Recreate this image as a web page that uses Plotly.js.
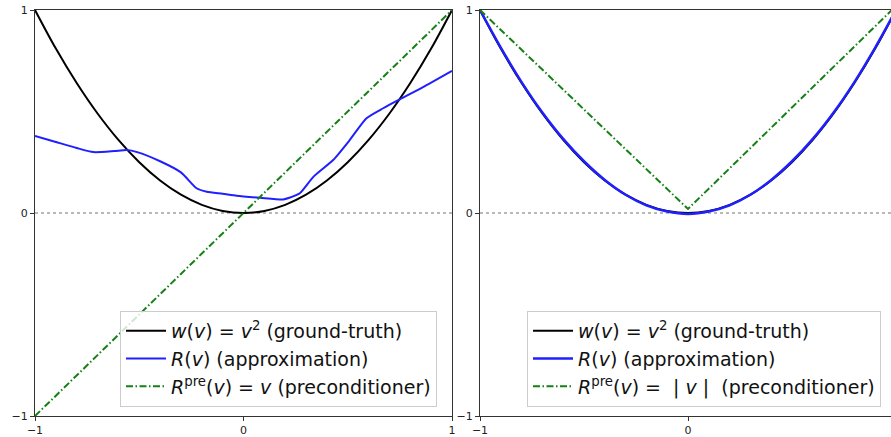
<!DOCTYPE html>
<html>
<head>
<meta charset="utf-8">
<script src="https://cdn.plot.ly/plotly-3.0.1.min.js"></script>
<style>html,body{margin:0;padding:0;background:#fff}#chart{width:891px;height:437px}</style>
</head>
<body>
<div id="chart"></div>
<script>
// ---- data ----
const vGrid = [-1.0,-0.9,-0.8,-0.7,-0.6,-0.5,-0.4,-0.3,-0.2,-0.1,0.0,0.1,0.2,0.3,0.4,0.5,0.6,0.7,0.8,0.9,1.0];
const groundTruth = [1.0,0.81,0.64,0.49,0.36,0.25,0.16,0.09,0.04,0.01,0.0,0.01,0.04,0.09,0.16,0.25,0.36,0.49,0.64,0.81,1.0];

const leftApproxV = [-1.0,-0.9,-0.8,-0.72,-0.62,-0.56,-0.51,-0.4,-0.3,-0.225,-0.176,-0.1,-0.033,0.08,0.19,0.22,0.27,0.335,0.43,0.51,0.59,0.67,0.75,0.87,1.0];
const leftApproxR = [0.38,0.35,0.32,0.30,0.305,0.31,0.30,0.255,0.20,0.122,0.105,0.095,0.085,0.075,0.067,0.075,0.097,0.178,0.261,0.36,0.467,0.516,0.56,0.625,0.70];

const leftPreV = [-1.0,0.0,1.0];
const leftPreR = [-1.0,0.0,1.0];

const rightApproxR = [1.0,0.815,0.645,0.495,0.365,0.255,0.163,0.09,0.038,0.007,-0.005,0.007,0.038,0.09,0.163,0.255,0.365,0.495,0.645,0.815,1.0];
const rightPreV = [-1.0,0.0,1.0];
const rightPreR = [1.0,0.02,1.02];

const labelsLeft = [
  '<i>w</i>(<i>v</i>) = <i>v</i><sup>2</sup> (ground-truth)',
  '<i>R</i>(<i>v</i>) (approximation)',
  '<i>R</i><sup>pre</sup>(<i>v</i>) = <i>v</i> (preconditioner)'
];
const labelsRight = [
  '<i>w</i>(<i>v</i>) = <i>v</i><sup>2</sup> (ground-truth)',
  '<i>R</i>(<i>v</i>) (approximation)',
  '<i>R</i><sup>pre</sup>(<i>v</i>) =  | <i>v</i> |  (preconditioner)'
];
const xTicksLeft = [-1,0,1];
const xTicksRight = [-1,0,1];
const yTicks = [-1,0,1];

// ---- styles ----
const black = '#000000', blue = '#2020ff', green = '#168016';
const dashDot = '7px,2.5px,1.5px,2.5px';

const traces = [
  {x: vGrid, y: groundTruth, xaxis:'x', yaxis:'y', mode:'lines', line:{color:black,width:2,shape:'spline'}, name: labelsLeft[0], legend:'legend'},
  {x: leftApproxV, y: leftApproxR, xaxis:'x', yaxis:'y', mode:'lines', line:{color:blue,width:2,shape:'spline',smoothing:0.6}, name: labelsLeft[1], legend:'legend'},
  {x: leftPreV, y: leftPreR, xaxis:'x', yaxis:'y', mode:'lines', line:{color:green,width:2,dash:dashDot}, name: labelsLeft[2], legend:'legend'},
  {x: vGrid, y: groundTruth, xaxis:'x2', yaxis:'y2', mode:'lines', line:{color:black,width:2,shape:'spline'}, name: labelsRight[0], legend:'legend2'},
  {x: vGrid, y: rightApproxR, xaxis:'x2', yaxis:'y2', mode:'lines', line:{color:blue,width:2.5,shape:'spline'}, name: labelsRight[1], legend:'legend2'},
  {x: rightPreV, y: rightPreR, xaxis:'x2', yaxis:'y2', mode:'lines', line:{color:green,width:2,dash:dashDot}, name: labelsRight[2], legend:'legend2'}
];

const W = 891;
const axisCommon = {
  showgrid:false, zeroline:false, showline:true, linecolor:'#333', linewidth:1,
  ticks:'outside', ticklen:4, tickcolor:'#333', tickwidth:1,
  tickfont:{family:'DejaVu Sans', size:11, color:'#222'}
};
const legendCommon = {
  font:{family:'DejaVu Sans', size:19, color:'#111'},
  bgcolor:'rgba(255,255,255,0.8)', bordercolor:'#cccccc', borderwidth:1,
  xref:'paper', yref:'paper', xanchor:'right', yanchor:'bottom', tracegroupgap:0,
  itemwidth:40
};

const layout = {
  width:891, height:437,
  margin:{l:0, r:0, t:10, b:21},
  paper_bgcolor:'#fff', plot_bgcolor:'#fff',
  showlegend:true,
  hovermode:false,
  xaxis: Object.assign({}, axisCommon, {domain:[35/W, 452/W], range:[-1,1], tickvals:xTicksLeft, mirror:true, anchor:'y'}),
  yaxis: Object.assign({}, axisCommon, {range:[-1,1], tickvals:yTicks, mirror:true, anchor:'x'}),
  xaxis2: Object.assign({}, axisCommon, {domain:[480/W, 1], range:[-1,(891-688)/208], tickvals:xTicksRight, mirror:true, anchor:'y2'}),
  yaxis2: Object.assign({}, axisCommon, {range:[-1,1], tickvals:yTicks, mirror:false, anchor:'x2'}),
  legend: Object.assign({}, legendCommon, {x:437/W, y:9/406}),
  legend2: Object.assign({}, legendCommon, {x:881/W, y:9/406}),
  shapes: [
    {type:'line', xref:'x domain', yref:'y', x0:0, x1:1, y0:0, y1:0, line:{color:'#333', width:0.7, dash:'dot'}, layer:'below'},
    {type:'line', xref:'x2 domain', yref:'y2', x0:0, x1:1, y0:0, y1:0, line:{color:'#333', width:0.7, dash:'dot'}, layer:'below'}
  ]
};

Plotly.newPlot('chart', traces, layout, {staticPlot:true, displayModeBar:false});
</script>
</body>
</html>
